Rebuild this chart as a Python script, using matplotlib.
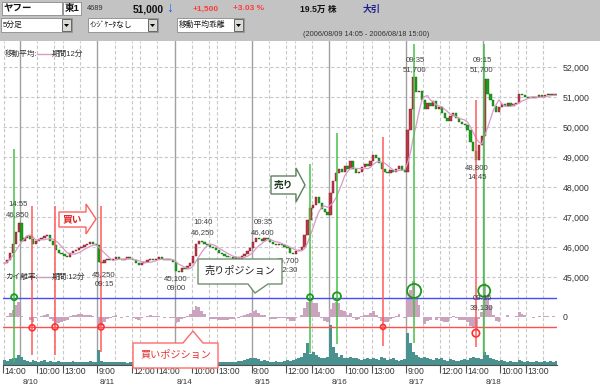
import numpy as np
import pandas as pd
import matplotlib
matplotlib.use('Agg')
import matplotlib.pyplot as plt
from matplotlib.patches import Polygon, Rectangle
from matplotlib.lines import Line2D
from matplotlib.transforms import Affine2D

plt.rcParams['font.family'] = ['Liberation Sans', 'Noto Sans CJK JP', 'DejaVu Sans']

# 10 minute closes (yen), 2006/08/09 14:05 - 2006/08/18 15:00
close_0809 = [45450, 45550, 45800, 46100, 46500, 46800]
close_0810 = [46200, 46300, 46350, 46250, 46100, 46200, 46250, 46300, 46350, 46400, 46200, 46050,
              45900, 45800, 45750, 45700, 45650, 45800, 45850, 45900, 45950, 46000, 46050, 46100,
              46150, 46100, 46050]
close_0811 = [45500, 45450, 45550, 45600, 45550, 45600, 45650, 45600, 45550, 45600, 45650, 45600,
              45550, 45450, 45400, 45450, 45500, 45550, 45600, 45550, 45600, 45650, 45600, 45550,
              45600, 45550, 45500]
close_0814 = [45200, 45150, 45300, 45250, 45350, 45450, 45700, 46100, 46200, 46150, 46100, 46050,
              46000, 45950, 45900, 45800, 45750, 45700, 45650, 45650, 45600, 45650, 45600, 45700,
              45750, 45850, 45950]
close_0815 = [46150, 46300, 46250, 46200, 46300, 46250, 46150, 46100, 46050, 46100, 46050, 46000,
              45950, 45800, 45750, 45850, 45900, 46000, 46400, 46900, 47300, 47400, 47650, 47450,
              47250, 47150, 47050]
close_0816 = [47800, 48200, 48450, 48600, 48500, 48700, 48600, 48850, 48600, 48450, 48500, 48650,
              48750, 48700, 48850, 49050, 48950, 48800, 48600, 48500, 48450, 48550, 48500, 48600,
              48700, 48550, 48500]
close_0817 = [49900, 50600, 51650, 51150, 51200, 50900, 50600, 50800, 50700, 50850, 50600, 50650,
              50450, 50300, 50200, 50350, 50450, 50300, 50150, 50100, 50050, 49900, 49500, 49200,
              48900, 49400, 49700]
close_0818 = [51600, 51100, 50900, 50700, 50500, 50650, 50750, 50700, 50800, 50700, 50750, 50800,
              51100, 51050, 51000, 50950, 51000, 50950, 51000, 51050, 51000, 51050, 51100, 51050,
              51100, 51050, 51000]

# volume per bar (thousand shares)
vol_0809 = [6, 5, 7, 8, 9, 12]
vol_0810 = [10, 6, 5, 4, 6, 5, 4, 5, 6, 4, 5, 4, 3, 5, 4, 4, 3, 4, 5, 4, 3, 4, 3, 4, 5, 4, 3]
vol_0811 = [18, 5, 4, 3, 4, 3, 3, 4, 3, 3, 2, 3, 4, 3, 3, 2, 3, 3, 2, 3, 3, 2, 3, 3, 4, 3, 3]
vol_0814 = [6, 5, 4, 7, 5, 6, 9, 8, 6, 5, 4, 4, 5, 4, 3, 4, 3, 3, 4, 3, 4, 4, 5, 5, 6, 7, 8]
vol_0815 = [9, 8, 7, 5, 6, 5, 4, 4, 5, 4, 4, 5, 6, 5, 6, 7, 8, 10, 14, 26, 13, 16, 12, 10, 9, 9, 10]
vol_0816 = [48, 22, 14, 10, 12, 9, 8, 10, 9, 8, 7, 6, 7, 8, 7, 9, 7, 6, 10, 8, 6, 7, 8, 6, 5, 6, 7]
vol_0817 = [38, 26, 16, 12, 10, 9, 10, 8, 7, 6, 8, 7, 8, 6, 5, 7, 6, 5, 5, 6, 7, 6, 8, 10, 9, 8, 7]
vol_0818 = [16, 12, 8, 7, 6, 5, 6, 5, 4, 5, 4, 4, 6, 5, 4, 5, 4, 4, 5, 4, 4, 5, 4, 5, 4, 5, 6]

days = ['8/10', '8/11', '8/14', '8/15', '8/16', '8/17', '8/18']
day_start = [6, 33, 60, 87, 114, 141, 168]
tick_pos = [0, 12, 21, 33, 45, 54, 66, 75, 87, 99, 108, 120, 129, 141, 153, 162, 174, 183]
tick_labels = ['14:00', '10:00', '13:00', '9:00', '12:00', '14:00', '10:00', '13:00', '9:00',
               '12:00', '14:00', '10:00', '13:00', '9:00', '12:00', '14:00', '10:00', '13:00']
price_ticks = [45000, 46000, 47000, 48000, 49000, 50000, 51000, 52000]

# signals (bar position, line top / bottom in yen, circle position in %, circle radius px)
sell_x = [3.9, 107.4, 116.8, 143.8, 168.3]
sell_top = [49250, 48750, 49800, 52750, 52750]
sell_bottom = [42150, 42450, 42750, 42800, 42400]
sell_mark = [2.2, 2.2, 2.3, 2.9, 2.9]
sell_r = [3, 3, 4, 7, 6]
buy_x = [10.2, 18.2, 34.3, 132.9, 165.4]
buy_top = [47350, 47350, 47350, 49650, 50900]
buy_bottom = [42400, 42400, 42500, 42700, 42650]
buy_mark = [-1.2, -1.1, -1.1, -1.1, -1.8]
buy_r = [3, 3, 3, 2.5, 3.7]
upper_band = 2.1
lower_band = -1.1

closes = np.array(close_0809 + close_0810 + close_0811 + close_0814 + close_0815
                  + close_0816 + close_0817 + close_0818, dtype=float)
volume = np.array(vol_0809 + vol_0810 + vol_0811 + vol_0814 + vol_0815
                  + vol_0816 + vol_0817 + vol_0818, dtype=float)
n = len(closes)
x = np.arange(n) + 0.5
opens = np.r_[closes[0], closes[:-1]]
ma = pd.Series(closes).rolling(6, min_periods=1).mean().values
dev = (closes - ma) / ma * 100


# screen layout: 30 px per 1000 yen, 51,000 at y=97
def price_at(ypix):
    return 51000 - (ypix - 97) * 1000 / 30


osc_zero = price_at(317)
osc_scale = 9 * 1000 / 30
vol_scale = (1000 / 30) / 1.2
vol_base = price_at(365)

fig = plt.figure(figsize=(6, 3.88), dpi=100)
fig.patch.set_facecolor('white')
pix = Affine2D().scale(1 / 600, -1 / 388).translate(0, 1) + fig.transFigure
ax = fig.add_axes([3 / 600, 23 / 388, 554 / 600, 324 / 388])
ax.set_xlim(0.056, 0.056 + 554 / 2.86)
ax.set_ylim(price_at(365), price_at(41))

# grid
for p in price_ticks:
    ax.axhline(p, color='#c8c8c8', lw=0.8, ls=(0, (3, 2)), zorder=0)
for d in day_start:
    ax.axvline(d, color='#a0a0a0', lw=1.0, zorder=0)
    for k in [6, 12, 15, 21]:
        ax.axvline(d + k, color='#c8c8c8', lw=0.8, ls=(0, (3, 2)), zorder=0)
ax.axvline(0.3, color='#c8c8c8', lw=0.8, ls=(0, (3, 2)), zorder=0)

# volume
edges = np.arange(n + 1)
ax.stairs(vol_base + volume * vol_scale, edges, baseline=vol_base, fill=True,
          color='#4a9290', zorder=1)

# moving average deviation
ax.stairs(osc_zero + dev * osc_scale, edges, baseline=osc_zero, fill=True,
          color='#cba3bf', zorder=2)
ax.axhline(osc_zero + upper_band * osc_scale, color='#4848ff', lw=1, zorder=3)
ax.axhline(osc_zero + lower_band * osc_scale, color='#ff5050', lw=1, zorder=3)

# candles
up = closes >= opens
body_low = np.minimum(opens, closes)
body_h = np.maximum(np.abs(closes - opens), 25)
ax.bar(x[up], body_h[up], bottom=body_low[up], width=0.8, color='#b83a48',
       edgecolor='#8a1020', lw=0.3, zorder=4)
ax.bar(x[~up], body_h[~up], bottom=body_low[~up], width=0.8, color='#1d9e1d',
       edgecolor='#107010', lw=0.3, zorder=4)
ax.plot(x, ma, color='#d89ac8', lw=0.9, zorder=5)

# signal lines and circles
ax.vlines(sell_x, sell_bottom, sell_top, color='#48c048', lw=1.1, zorder=6)
ax.vlines(buy_x, buy_bottom, buy_top, color='#ff5a5a', lw=1.1, zorder=6)
ax.scatter(sell_x, osc_zero + np.array(sell_mark) * osc_scale,
           s=(2 * np.array(sell_r) * 0.72) ** 2, facecolors='none',
           edgecolors='#1a9a1a', linewidths=1.3, zorder=7)
ax.scatter(buy_x, osc_zero + np.array(buy_mark) * osc_scale,
           s=(2 * np.array(buy_r) * 0.72) ** 2, facecolors='none',
           edgecolors='#ff3030', linewidths=1.2, zorder=7)

# axes
for s in ['top', 'left', 'right']:
    ax.spines[s].set_visible(False)
ax.spines['bottom'].set_color('#505050')
ax.yaxis.tick_right()
ax.set_yticks([osc_zero] + price_ticks)
ax.set_yticklabels(['0'] + [f'{p:,}' for p in price_ticks], fontsize=6.3, color='#333333')
ax.tick_params(axis='y', length=0, pad=4)
ax.set_xticks(tick_pos)
ax.set_xticklabels([])
ax.tick_params(axis='x', length=6, color='#505050', width=0.8)
xt = ax.get_xaxis_transform()
for t, lab in zip(tick_pos, tick_labels):
    ax.text(t + 0.45, -0.019, lab, transform=xt, ha='left', va='center', fontsize=6.2,
            color='#333333', clip_on=False)
for d, lab in zip(day_start, days):
    ax.text(d + 3.6, -0.053, lab, transform=xt, ha='center', va='center', fontsize=5.8,
            color='#333333', clip_on=False)


def txt(px, py, s, **kw):
    kw.setdefault('va', 'center')
    kw.setdefault('color', '#404040')
    return ax.text(px, py, s, transform=pix, clip_on=False, **kw)


# high / low labels
for px, py, a, b in [(18, 205, '14:55', '46,850'), (104, 275, '45,250', '09:15'),
                     (176, 279, '45,100', '09:00'), (203, 223, '10:40', '46,250'),
                     (263, 223, '09:35', '46,400'), (288, 261, '45,700', '12:30'),
                     (415, 60, '09:35', '51,700'), (482, 60, '09:15', '51,700'),
                     (477, 168, '48,800', '14:45'), (482, 298, '09:15', '39,130')]:
    txt(px, py, a, ha='center', fontsize=5.6, zorder=8)
    txt(px, py + 9.5, b, ha='center', fontsize=5.6, zorder=8)

# legends
txt(5, 54, '移動平均:', ha='left', fontsize=5.5, color='#303030')
ax.add_line(Line2D([37, 52], [54, 54], transform=pix, color='#d89ac8', lw=1, clip_on=False))
txt(52, 54, '期間12分', ha='left', fontsize=5.5, color='#303030')
txt(5, 277, 'カイ離率:', ha='left', fontsize=5.5, color='#303030', zorder=8)
ax.add_line(Line2D([34, 52], [277, 277], transform=pix, color='#c9a0bd', lw=1, clip_on=False))
txt(52, 277, '期間:12分', ha='left', fontsize=5.5, color='#303030', zorder=8)

# callouts
buy_arrow = [(59, 212), (86, 212), (86, 204), (96, 219), (86, 234), (86, 227), (59, 227)]
ax.add_patch(Polygon(buy_arrow, closed=True, transform=pix, fc='white', ec='#ff6060',
                     lw=1, zorder=9, clip_on=False))
txt(72, 219.5, '買い', ha='center', fontsize=7, fontweight='bold', color='#e02020', zorder=10)
sell_arrow = [(271, 176), (296, 176), (296, 168), (305, 185), (296, 202), (296, 194), (271, 194)]
ax.add_patch(Polygon(sell_arrow, closed=True, transform=pix, fc='white', ec='#5f825f',
                     lw=1, zorder=9, clip_on=False))
txt(284, 185, '売り', ha='center', fontsize=7, fontweight='bold', color='#1c381c', zorder=10)
sell_pos = [(198, 259), (282, 259), (282, 284), (268, 284), (255, 293), (248, 284), (198, 284)]
ax.add_patch(Polygon(sell_pos, closed=True, transform=pix, fc='white', ec='#6f8f6f',
                     lw=1, zorder=9, clip_on=False))
txt(240, 270.5, '売りポジション', ha='center', fontsize=7.3, color='#202020', zorder=10)
buy_pos = [(133, 343), (183, 343), (193, 331), (203, 343), (218, 343), (218, 368), (133, 368)]
ax.add_patch(Polygon(buy_pos, closed=True, transform=pix, fc='white', ec='#ff6a6a',
                     lw=1, zorder=9, clip_on=False))
txt(175.5, 355, '買いポジション', ha='center', fontsize=7.3, color='#e83030', zorder=10)

# header
fig.add_artist(Rectangle((0, 0), 600, 41, transform=pix, fc='#c3c3c3', ec='none', zorder=0))


def box(x0, y0, w, h, zorder=1):
    fig.add_artist(Rectangle((x0, y0), w, h, transform=pix, fc='white', ec='#8a8a8a',
                             lw=0.6, zorder=zorder))


def htxt(px, py, s, **kw):
    kw.setdefault('va', 'center')
    kw.setdefault('color', '#111111')
    fig.text(px, py, s, transform=pix, **kw)


box(2, 2, 60, 13)
box(63, 2, 18, 13)
htxt(4, 9, 'ヤフー', fontsize=6.8, fontweight='bold')
htxt(65, 9, '東1', fontsize=6.8, fontweight='bold')
htxt(87, 9, '4689', fontsize=5.3, color='#333333')
htxt(133, 9, '51,000', fontsize=7.4, fontweight='bold')
htxt(166.5, 7.5, '↓', fontsize=10, fontweight='bold', color='#2060ff')
htxt(193, 9, '+1,500', fontsize=6, fontweight='bold', color='#ff3a3a')
htxt(233, 9, '+3.03 %', fontsize=6, fontweight='bold', color='#ff3a3a')
htxt(300, 9, '19.5万 株', fontsize=6.2, fontweight='bold')
htxt(363, 9, '大引', fontsize=6.5, fontweight='bold', color='#202090')
for x0, w, lab in [(1, 71, '5分足'), (88, 70, 'ｲﾝｼﾞｹｰﾀなし'), (177, 67, '移動平均乖離')]:
    box(x0, 18, w, 14)
    fig.add_artist(Rectangle((x0 + w - 10, 19), 9, 12, transform=pix, fc='#dcdad4',
                             ec='#505050', lw=0.6, zorder=2))
    fig.add_artist(Polygon([(x0 + w - 8, 24), (x0 + w - 3, 24), (x0 + w - 5.5, 27)],
                           closed=True, transform=pix, fc='black', ec='none', zorder=3))
    htxt(x0 + 2, 25, lab, fontsize=5.6)
htxt(303, 35, '(2006/08/09 14:05 - 2006/08/18 15:00)', fontsize=5.3, color='#333333')

fig.savefig('out.png', dpi=100)
